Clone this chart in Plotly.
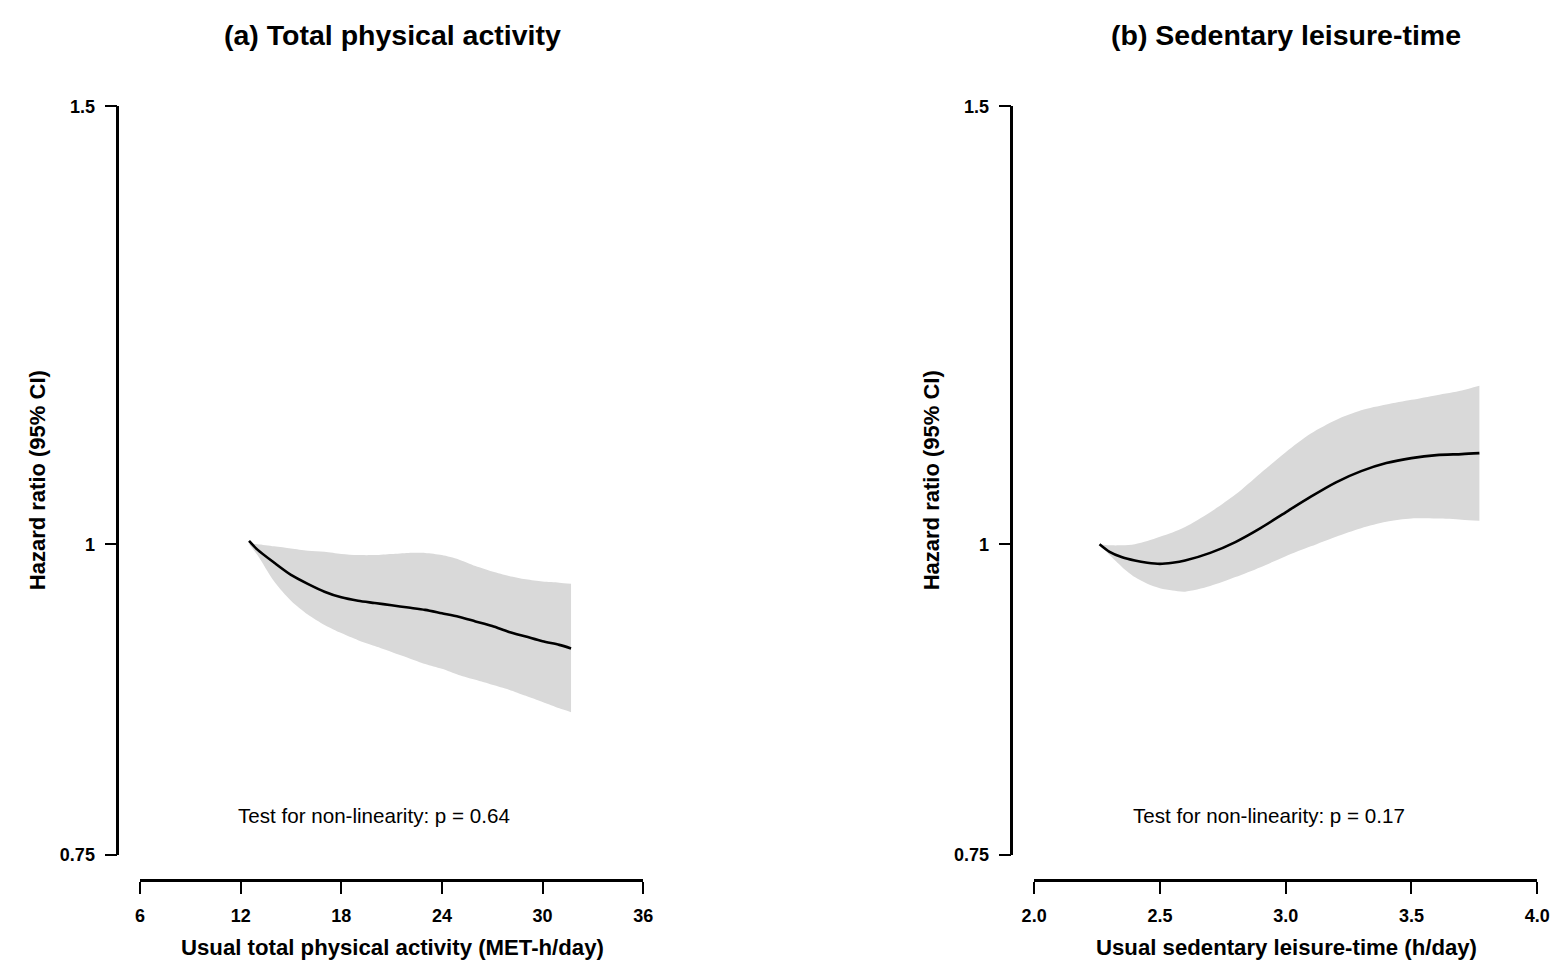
import math
import plotly.graph_objects as go

W, H = 1567, 973
FONT = "Liberation Sans, Arial, Helvetica, sans-serif"

# ---------------- data: panel (a) total physical activity ----------------
pa_x = [12.5, 13.0, 14.0, 15.0, 16.0, 17.0, 18.0, 19.0, 20.0, 21.0, 22.0,
        23.0, 24.0, 25.0, 26.0, 27.0, 28.0, 29.0, 30.0, 31.0, 31.7]
pa_hr = [1.003, 0.995, 0.983, 0.972, 0.964, 0.957, 0.952, 0.949, 0.947, 0.945, 0.943,
         0.941, 0.938, 0.935, 0.931, 0.927, 0.922, 0.918, 0.914, 0.911, 0.908]
pa_hi = [1.000, 1.000, 0.998, 0.996, 0.994, 0.993, 0.991, 0.990, 0.990, 0.991, 0.992,
         0.992, 0.990, 0.986, 0.980, 0.975, 0.971, 0.968, 0.966, 0.965, 0.964]
pa_lo = [1.000, 0.990, 0.966, 0.949, 0.937, 0.928, 0.921, 0.915, 0.910, 0.905, 0.900,
         0.895, 0.891, 0.886, 0.882, 0.878, 0.874, 0.869, 0.864, 0.859, 0.856]

# ---------------- data: panel (b) sedentary leisure-time ----------------
pb_x = [2.26, 2.30, 2.35, 2.40, 2.45, 2.50, 2.55, 2.60, 2.70, 2.80, 2.90,
        3.00, 3.10, 3.20, 3.30, 3.40, 3.50, 3.60, 3.70, 3.77]
pb_hr = [1.000, 0.993, 0.988, 0.985, 0.983, 0.982, 0.983, 0.985, 0.992, 1.002, 1.015,
         1.030, 1.045, 1.059, 1.070, 1.078, 1.083, 1.086, 1.087, 1.088]
pb_hi = [1.000, 0.999, 0.999, 1.000, 1.003, 1.007, 1.011, 1.016, 1.030, 1.047, 1.068,
         1.089, 1.108, 1.122, 1.132, 1.138, 1.143, 1.148, 1.153, 1.158]
pb_lo = [1.000, 0.990, 0.979, 0.970, 0.964, 0.960, 0.958, 0.957, 0.962, 0.970, 0.979,
         0.989, 0.998, 1.007, 1.015, 1.021, 1.024, 1.024, 1.023, 1.022]

# ---------------- axes / labels ----------------
a_xticks = [6, 12, 18, 24, 30, 36]
b_xticks = [2.0, 2.5, 3.0, 3.5, 4.0]
b_xticktext = ["2.0", "2.5", "3.0", "3.5", "4.0"]
y_ticks = [0.75, 1, 1.5]
y_ticktext = ["0.75", "1", "1.5"]

titles = ["(a) Total physical activity", "(b) Sedentary leisure-time"]
x_titles = ["Usual total physical activity (MET-h/day)",
            "Usual sedentary leisure-time (h/day)"]
y_title = "Hazard ratio (95% CI)"
notes = ["Test for non-linearity: p = 0.64", "Test for non-linearity: p = 0.17"]

FILL = "#D9D9D9"


def fx(p):
    return p / W


def fy(p):
    return 1 - p / H


fig = go.Figure()

panels = [
    (pa_x, pa_hr, pa_lo, pa_hi, "x", "y"),
    (pb_x, pb_hr, pb_lo, pb_hi, "x2", "y2"),
]
for xs, hr, lo, hi, xa, ya in panels:
    fig.add_trace(go.Scatter(
        x=xs, y=lo, mode="lines",
        line=dict(width=0, color=FILL, shape="spline", smoothing=0.8),
        hoverinfo="skip", xaxis=xa, yaxis=ya, showlegend=False))
    fig.add_trace(go.Scatter(
        x=xs, y=hi, mode="lines", fill="tonexty", fillcolor=FILL,
        line=dict(width=0, color=FILL, shape="spline", smoothing=0.8),
        hoverinfo="skip", xaxis=xa, yaxis=ya, showlegend=False))
    fig.add_trace(go.Scatter(
        x=xs, y=hr, mode="lines",
        line=dict(color="black", width=2.6, shape="spline", smoothing=0.8),
        xaxis=xa, yaxis=ya, showlegend=False))

common = dict(
    showline=True, linecolor="black", linewidth=2.7,
    ticks="outside", ticklen=12, tickwidth=2.2, tickcolor="black",
    showgrid=False, zeroline=False, fixedrange=True,
    tickfont=dict(family=FONT, size=18, color="black", weight="bold"),
)

ylo, yhi = math.log10(0.75) - 1e-4, math.log10(1.5) + 1e-4
ydom = [fy(863), fy(99)]

fig.update_layout(
    width=W, height=H,
    margin=dict(l=0, r=0, t=0, b=0),
    paper_bgcolor="white", plot_bgcolor="rgba(0,0,0,0)",
    showlegend=False,
    font=dict(family=FONT, color="black"),
    xaxis=dict(common, domain=[fx(130), fx(641)], range=[6 - 0.001, 36 + 0.001],
               tickmode="array", tickvals=a_xticks, ticklabelstandoff=7,
               anchor="free", position=fy(888)),
    yaxis=dict(common, type="log", domain=ydom, range=[ylo, yhi],
               tickmode="array", tickvals=y_ticks, ticktext=y_ticktext,
               ticklabelstandoff=6, anchor="free", position=fx(107)),
    xaxis2=dict(common, domain=[fx(1038), fx(1549)], range=[2.0 - 0.0001, 4.0 + 0.0001],
                tickmode="array", tickvals=b_xticks, ticktext=b_xticktext,
                ticklabelstandoff=7, anchor="free", position=fy(888)),
    yaxis2=dict(common, type="log", domain=ydom, range=[ylo, yhi],
                tickmode="array", tickvals=y_ticks, ticktext=y_ticktext,
                ticklabelstandoff=6, anchor="free", position=fx(1015)),
)

ann = []
centers = [386, 1294]
ytitle_x = [26, 934]
note_x = [368, 1277]
for i in range(2):
    ann.append(dict(text=titles[i], x=fx(centers[i]), y=fy(27), xref="paper", yref="paper",
                    showarrow=False, xanchor="center", yanchor="middle",
                    font=dict(family=FONT, size=28.5, color="black", weight="bold")))
    ann.append(dict(text=x_titles[i], x=fx(centers[i]), y=fy(957), xref="paper", yref="paper",
                    showarrow=False, xanchor="center", yanchor="middle",
                    font=dict(family=FONT, size=22.2, color="black", weight="bold")))
    ann.append(dict(text=y_title, x=fx(ytitle_x[i]), y=fy(481), xref="paper", yref="paper",
                    showarrow=False, xanchor="center", yanchor="middle", textangle=-90,
                    font=dict(family=FONT, size=22, color="black", weight="bold")))
    ann.append(dict(text=notes[i], x=fx(note_x[i]), y=fy(823), xref="paper", yref="paper",
                    showarrow=False, xanchor="center", yanchor="middle",
                    font=dict(family=FONT, size=20.6, color="black")))
fig.update_layout(annotations=ann)

fig.write_html("out.html")
